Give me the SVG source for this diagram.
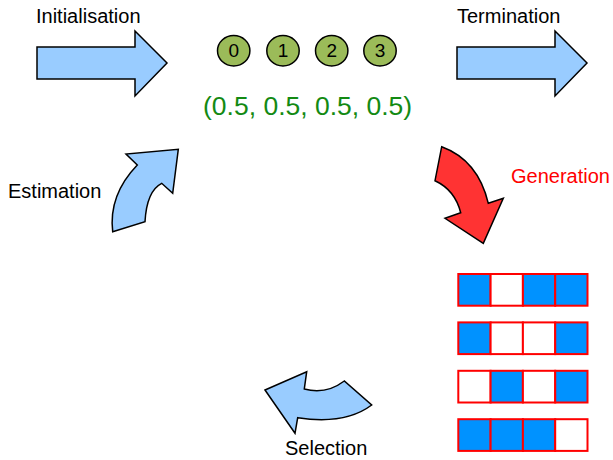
<svg xmlns="http://www.w3.org/2000/svg" width="613" height="460" viewBox="0 0 613 460">
<style>
.lbl{font-family:"Liberation Sans",Arial,sans-serif;font-size:20px;fill:#000}
.arr{fill:#99ccff;stroke:#000;stroke-width:1.5;stroke-linejoin:miter}
.node ellipse{fill:#9bbb59;stroke:#000;stroke-width:1.5}
.node text{font-family:"Liberation Sans",Arial,sans-serif;font-size:19px;text-anchor:middle;fill:#000}
.cell{stroke:#ff0000;stroke-width:2}
.b{fill:#0092ff}
.w{fill:#fff}
</style>
<rect width="613" height="460" fill="#fff"/>
<g id="connectors">
  <g id="init-arrow"><path class="arr" d="M37,47 L135,47 L135,31 L167,63 L135,96 L135,79 L37,79 Z"/></g>
  <g id="term-arrow"><path class="arr" d="M457,47 L555,47 L555,31 L587,63 L555,96 L555,79 L457,79 Z"/></g>
  <g id="est-arrow"><path class="arr" d="M112.7,231.7 L145,221.7 Q146.7,190.9 161.7,183.3 L172.7,193.3 L178.3,149.3 L126,154 L137.3,165 Q108.4,195 112.7,231.7 Z"/></g>
  <g id="gen-arrow"><path d="M441.7,146.7 Q478,160 488.3,203.3 L503.3,198.3 L483.3,243.3 L445,218.3 L460.7,212.7 Q455,190 435,180.7 Z" fill="#ff3333" stroke="#000" stroke-width="1.5"/></g>
  <g id="sel-arrow"><path class="arr" d="M265,390 L306.7,371.7 L304.3,389 Q325.7,395 344.3,381 L371.7,405 Q345,425 297.7,417.7 L295,433.3 Z"/></g>
</g>
<text class="lbl" x="36" y="23">Initialisation</text>
<text class="lbl" x="457" y="23">Termination</text>
<text class="lbl" x="8" y="198">Estimation</text>
<text class="lbl" x="511" y="183" style="fill:#ff0000">Generation</text>
<text class="lbl" x="285" y="455">Selection</text>
<g id="node0" class="node"><ellipse cx="233.7" cy="50.7" rx="16.2" ry="15.2"/><text x="233.7" y="57.3">0</text></g>
<g id="node1" class="node"><ellipse cx="283" cy="50.7" rx="16.2" ry="15.2"/><text x="283" y="57.3">1</text></g>
<g id="node2" class="node"><ellipse cx="331.7" cy="50.7" rx="16.2" ry="15.2"/><text x="331.7" y="57.3">2</text></g>
<g id="node3" class="node"><ellipse cx="380" cy="50.7" rx="16.2" ry="15.2"/><text x="380" y="57.3">3</text></g>
<text x="203" y="115" font-family="Liberation Sans, Arial, sans-serif" font-size="26.5" fill="#138a13">(0.5, 0.5, 0.5, 0.5)</text>
<g id="pop">
  <g id="row1">
    <rect class="cell b" x="458.3" y="274" width="32.3" height="31.7"/>
    <rect class="cell w" x="490.6" y="274" width="32.3" height="31.7"/>
    <rect class="cell b" x="522.9" y="274" width="32.3" height="31.7"/>
    <rect class="cell b" x="555.2" y="274" width="32.3" height="31.7"/>
  </g>
  <g id="row2">
    <rect class="cell b" x="458.3" y="322.4" width="32.3" height="31.7"/>
    <rect class="cell w" x="490.6" y="322.4" width="32.3" height="31.7"/>
    <rect class="cell w" x="522.9" y="322.4" width="32.3" height="31.7"/>
    <rect class="cell b" x="555.2" y="322.4" width="32.3" height="31.7"/>
  </g>
  <g id="row3">
    <rect class="cell w" x="458.3" y="370.8" width="32.3" height="31.7"/>
    <rect class="cell b" x="490.6" y="370.8" width="32.3" height="31.7"/>
    <rect class="cell w" x="522.9" y="370.8" width="32.3" height="31.7"/>
    <rect class="cell b" x="555.2" y="370.8" width="32.3" height="31.7"/>
  </g>
  <g id="row4">
    <rect class="cell b" x="458.3" y="419.2" width="32.3" height="31.7"/>
    <rect class="cell b" x="490.6" y="419.2" width="32.3" height="31.7"/>
    <rect class="cell b" x="522.9" y="419.2" width="32.3" height="31.7"/>
    <rect class="cell w" x="555.2" y="419.2" width="32.3" height="31.7"/>
  </g>
</g>
</svg>
